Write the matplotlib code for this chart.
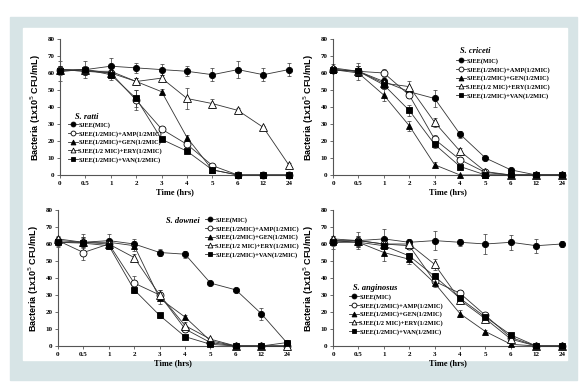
import numpy as np
import matplotlib.pyplot as plt
from matplotlib.patches import Rectangle
from matplotlib.lines import Line2D

# Thời điểm lấy mẫu (trục x dạng danh mục)
times = ["0", "0.5", "1", "2", "3", "4", "5", "6", "12", "24"]
labels = ["SJEE(MIC)", "SJEE(1/2MIC)+AMP(1/2MIC)", "SJEE(1/2MIC)+GEN(1/2MIC)",
          "SJEE(1/2 MIC)+ERY(1/2MIC)", "SJEE(1/2MIC)+VAN(1/2MIC)"]

# S. ratti
ratti_mic = [61, 62, 64, 63, 62, 61, 59, 62, 59, 62]
ratti_amp = [62, 61, 60, 44, 27, 18, 5.5, 0, 0, 0]
ratti_gen = [62, 61, 61, 55, 49, 22, 3, 0, 0, 0]
ratti_ery = [62, 62, 60, 55, 57, 45, 42, 38, 28, 6]
ratti_van = [61, 62, 59, 45, 21, 14, 3, 0, 0, 0]
ratti_err = [[6, 5, 5, 3, 3, 3, 4, 5, 4, 4], [2, 2, 3, 6, 1.5, 1.5, 1, 0, 0, 0],
             [2, 2, 2, 2, 1.5, 1.5, 1, 0, 0, 0], [2, 2, 2, 2, 2, 6, 2.5, 1.5, 1, 1],
             [2, 2, 3, 5, 1, 1, 1, 0, 0, 0]]

# S. criceti
cric_mic = [62, 61, 55, 49, 45, 24, 10, 3, 0, 0]
cric_amp = [62, 61, 60, 47, 21, 9, 1.5, 0, 0, 0]
cric_gen = [62, 60, 47, 29, 6, 0, 0, 0, 0, 0]
cric_ery = [63, 61, 54, 52, 31, 14, 2, 0, 0, 0]
cric_van = [62, 61, 53, 38, 18, 5, 0, 0, 0, 0]
cric_err = [[2, 5, 2, 2, 5, 2, 1, 1, 0, 0], [2, 3, 2.5, 2, 2.5, 1.5, 1, 0, 0, 0],
            [2, 2, 3.5, 3, 1.5, 0, 0, 0, 0, 0], [2, 3, 2, 3, 2.5, 2, 1, 0, 0, 0],
            [2, 3, 2.5, 3, 2, 1, 0, 0, 0, 0]]

# S. downei
down_mic = [61, 61, 62, 60, 55, 54, 37, 33, 19, 2]
down_amp = [62, 55, 60, 37, 30, 10, 2, 0, 0, 0]
down_gen = [62, 61, 61, 59, 28, 17, 3, 0, 0, 0]
down_ery = [63, 61, 60, 52, 30, 12, 4, 0, 0, 0]
down_van = [61, 60.5, 59, 33, 18, 5.5, 1, 0, 0, 2]
down_err = [[3, 5, 4, 3, 2, 2, 1, 1, 3.5, 1], [2, 4.5, 3, 4, 3, 2, 1, 0, 0, 0],
            [2, 3, 2, 3, 3, 1, 1, 0, 0, 0], [2, 3, 2, 2, 3, 2, 1, 0, 0, 0],
            [2, 3, 2, 2, 1.5, 1, 1, 0, 0, 0]]

# S. anginosus
ang_mic = [61, 62, 63, 61, 62, 61, 60, 61, 59, 60]
ang_amp = [62, 62, 60, 59, 38, 31, 18, 5, 0, 0]
ang_gen = [62, 61, 55, 51, 37, 19, 8.5, 1, 0, 0]
ang_ery = [63, 62, 60, 60, 48, 27, 16, 4, 0, 0]
ang_van = [61, 61, 59, 53, 41, 28, 17, 6.5, 0, 0]
ang_err = [[4, 5, 6, 2, 5.5, 2, 6, 4.5, 4, 2], [2, 3, 2, 2, 2, 2, 1, 1, 0, 0],
           [2, 3, 5, 3, 2, 2, 1, 1, 0, 0], [2, 3, 2, 2, 3, 2, 1, 1, 0, 0],
           [2, 3, 2, 2, 2, 2, 1, 1, 0, 0]]

markers = [("o", "black"), ("o", "white"), ("^", "black"), ("^", "white"), ("s", "black")]
msizes = [4.5, 5, 4.5, 5.5, 5]

serif = "Liberation Serif"
sans = "Liberation Sans"

fig = plt.figure(figsize=(5.88, 3.89), dpi=100)
# Khung nền xanh xám và vùng trắng bên trong
fig.patches.append(Rectangle((10 / 588, 1 - 380 / 389), 567 / 588, 363 / 389,
                             transform=fig.transFigure, color="#d7e4e6", zorder=-2))
fig.patches.append(Rectangle((23 / 588, 1 - 360 / 389), 544 / 588, 332 / 389,
                             transform=fig.transFigure, color="white", zorder=-1))

panels = [
    ("S. ratti", [ratti_mic, ratti_amp, ratti_gen, ratti_ery, ratti_van], ratti_err,
     [60 / 588, 1 - 175 / 389], (75, 117), (68, 122)),
    ("S. criceti", [cric_mic, cric_amp, cric_gen, cric_ery, cric_van], cric_err,
     [333 / 588, 1 - 175 / 389], (460, 51), (456, 58)),
    ("S. downei", [down_mic, down_amp, down_gen, down_ery, down_van], down_err,
     [58 / 588, 1 - 346 / 389], (166, 221), (205, 217)),
    ("S. anginosus", [ang_mic, ang_amp, ang_gen, ang_ery, ang_van], ang_err,
     [333 / 588, 1 - 346 / 389], (353, 288), (349, 294)),
]

x = np.arange(len(times))
for name, series, errs, (l, b), title_px, leg_px in panels:
    ax = fig.add_axes([l, b, 230 / 588, 136 / 389])
    ax.set_zorder(1)
    ax.patch.set_alpha(0)
    handles = []
    for s, e, (m, fc), ms, lab in zip(series, errs, markers, msizes, labels):
        ax.errorbar(x, s, yerr=e, fmt="none", ecolor="#333333", elinewidth=0.5,
                    capsize=1.5, capthick=0.5, clip_on=False, zorder=2)
        ax.plot(x, s, color="#333333", lw=0.6, marker=m, mfc=fc, mec="black",
                mew=0.6, ms=ms, clip_on=False, zorder=3)
        handles.append(Line2D([], [], color="#333333", lw=0.6, marker=m, mfc=fc,
                              mec="black", mew=0.6, ms=3.5))
    ax.set_xlim(0, 9.05)
    ax.set_ylim(0, 80)
    ax.set_yticks(range(0, 81, 10))
    ax.set_xticks(x)
    ax.set_xticklabels(times)
    for sp in ["top", "right"]:
        ax.spines[sp].set_visible(False)
    for sp in ["left", "bottom"]:
        ax.spines[sp].set_linewidth(0.8)
        ax.spines[sp].set_color("#555555")
    ax.tick_params(length=2, width=0.6, pad=2, color="#555555")
    for t in ax.get_xticklabels() + ax.get_yticklabels():
        t.set_fontfamily(serif)
        t.set_fontweight("bold")
        t.set_fontsize(5)
    ax.set_xlabel("Time (hrs)", fontfamily=serif, fontweight="bold", fontsize=6, labelpad=2)
    ax.set_ylabel("Bacteria (1x10$^5$ CFU/mL)", fontfamily=sans, fontweight="bold",
                  fontsize=6.5, labelpad=3)
    fig.text(title_px[0] / 588, 1 - title_px[1] / 389, name, fontfamily=serif,
             fontstyle="italic", fontweight="bold", fontsize=6, va="center")
    ax.legend(handles, labels, loc="upper left",
              bbox_to_anchor=(leg_px[0] / 588, 1 - leg_px[1] / 389),
              bbox_transform=fig.transFigure, frameon=False,
              prop={"family": serif, "weight": "bold", "size": 4.6},
              handlelength=1.5, handletextpad=0.1, labelspacing=0.45,
              borderpad=0, borderaxespad=0)

fig.savefig("out.png", dpi=100)
